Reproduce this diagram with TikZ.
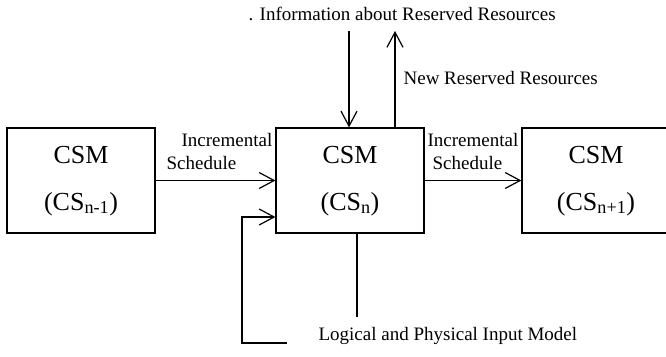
\documentclass[tikz,border=0pt]{standalone}
\usepackage{fontspec}
\setmainfont{Liberation Serif}
\usetikzlibrary{arrows.meta}
\begin{document}
\begin{tikzpicture}[x=1pt,y=-1pt,
  line width=1.2pt,
  csm/.style={draw,line width=1.2pt,minimum width=148pt,minimum height=105pt,inner sep=0pt},
  lbl/.style={inner sep=0pt,anchor=base west,font=\fontsize{19}{22}\selectfont},
  big/.style={inner sep=0pt,anchor=base,font=\fontsize{26}{30}\selectfont},
  flow/.style={-{Straight Barb[length=15pt,width=16pt,line width=1.2pt]}}]
\useasboundingbox (0,0) rectangle (666,356);
\clip (0,0) rectangle (666,356);

% controller boxes
\node[csm] (prev) at (81,180.5) {};
\node[csm] (cur)  at (350,180.5) {};
\node[csm] (next) at (596,180.5) {};

\foreach \b in {prev,cur,next}{
  \node[big] at ([yshift=17.5pt]\b.center) {CSM};
}
\node[big] at ([yshift=-29.5pt]prev.center) {(CS\textsubscript{n-1})};
\node[big] at ([yshift=-29.5pt]cur.center) {(CS\textsubscript{n})};
\node[big] at ([yshift=-29.5pt]next.center) {(CS\textsubscript{n+1})};

% schedule chain
\draw[flow] (prev.east) -- (cur.west);
\draw[flow] (cur.east) -- (next.west);
\node[lbl] (inc1) at (181,146) {Incremental};
\node[lbl] (sch1) at (166,169) {Schedule};
\node[lbl] (inc2) at (427,146) {Incremental};
\node[lbl] (sch2) at (432,169) {Schedule};

% reserved resources
\coordinate (resin) at (349,31);
\coordinate (resout) at (395,31);
\draw[flow] (resin) -- (resin |- cur.north);
\draw[flow] (resout |- cur.north) -- (resout);
\node[lbl] (info) at (248,20) {. Information about Reserved Resources};
\node[lbl] (newres) at (403,84) {New Reserved Resources};

% input model
\coordinate (modin) at (287,343);
\coordinate (modcorner) at (242,343);
\coordinate (modlink) at (357,317);
\draw[flow] (modin) -- (modcorner) |- ([yshift=-36.5pt]cur.west);
\draw (modlink |- cur.south) -- (modlink);
\node[lbl] (model) at (318,340) {Logical and Physical Input Model};
\end{tikzpicture}
\end{document}
